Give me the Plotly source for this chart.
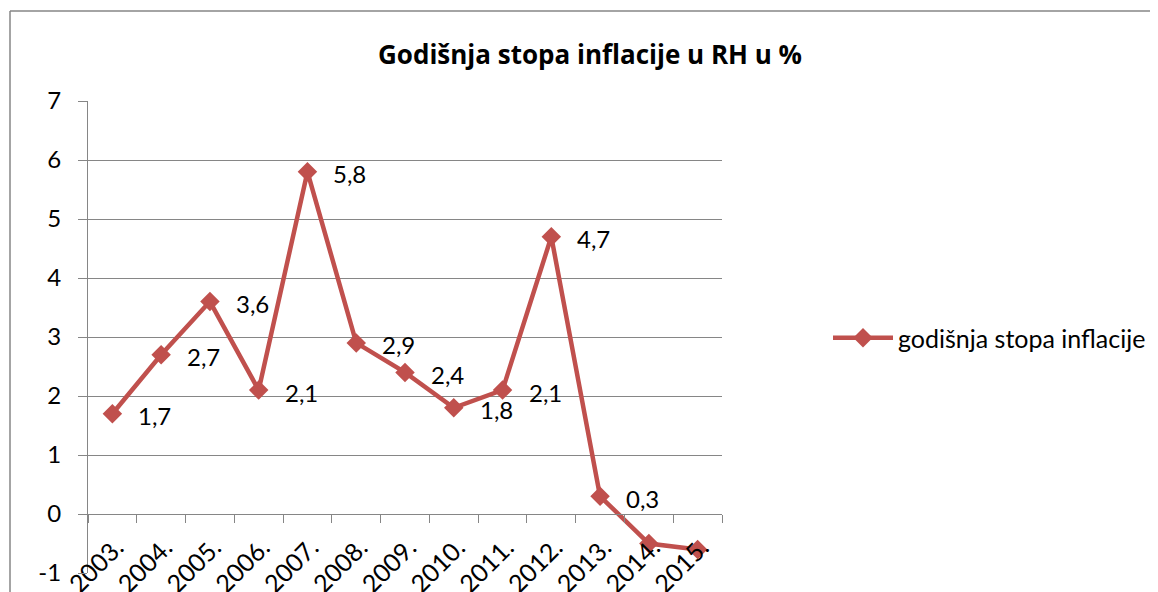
import plotly.graph_objects as go

years = ["2003.", "2004.", "2005.", "2006.", "2007.", "2008.", "2009.",
         "2010.", "2011.", "2012.", "2013.", "2014.", "2015."]
inflation = [1.7, 2.7, 3.6, 2.1, 5.8, 2.9, 2.4, 1.8, 2.1, 4.7, 0.3, -0.5, -0.6]
shown_labels = 11  # the last two points have no data label in the reference
series_name = "godišnja stopa inflacije"
title = "Godišnja stopa inflacije u RH u %"
y_tick_values = [-1, 0, 1, 2, 3, 4, 5, 6, 7]
y_tick_text = ["-1", "0", "1", "2", "3", "4", "5", "6", "7"]

labels = [f"{v:.1f}".replace(".", ",") for v in inflation]

RED = "#C0504D"
GRID = "#868686"
FONT = "Lato"

# the page body has an 8px default margin; work in reference pixels minus it
O = 8
W, H = 1158 - O, 592 - O
ml, mt = 88 - O, 101 - O
plot_right, plot_bottom = 722 - O, 573 - O
mr, mb = W - plot_right, H - plot_bottom
pw = W - ml - mr
ph = H - mt - mb


def px_x(xr):
    return (xr - O - ml) / pw


def px_y(yr):
    return (plot_bottom - (yr - O)) / ph


fig = go.Figure()
fig.add_trace(go.Scatter(
    x=years, y=inflation, name=series_name,
    mode="lines+markers",
    line=dict(color=RED, width=4.5),
    marker=dict(symbol="diamond", size=15, color=RED),
    cliponaxis=False,
))

# data labels, placed to the right of each point (category index on x)
for i in range(shown_labels):
    fig.add_annotation(
        x=i, y=inflation[i], xref="x", yref="y",
        text=labels[i], showarrow=False,
        xanchor="left", yanchor="middle", xshift=24, yshift=-2,
        font=dict(family=FONT, size=24, color="#000000"),
    )

ymin, ymax = y_tick_values[0], y_tick_values[-1]
zero_pos = (0 - ymin) / (ymax - ymin)

fig.update_layout(
    width=W, height=H,
    margin=dict(l=ml, r=mr, t=mt, b=mb, autoexpand=False),
    paper_bgcolor="white", plot_bgcolor="white",
    showlegend=True,
    title=dict(text=f"<b>{title}</b>", x=px_x(590), xref="paper",
               xanchor="center", y=1 - (55 - O) / H, yanchor="middle",
               font=dict(family="Open Sans", size=26, color="#000000")),
    legend=dict(x=px_x(828), xanchor="left", y=px_y(338),
                yanchor="middle", font=dict(family=FONT, size=25, color="#000000"),
                bgcolor="rgba(0,0,0,0)", itemwidth=60),
    xaxis=dict(
        type="category", range=[-0.5, len(years) - 0.5],
        anchor="free", position=zero_pos,
        showline=True, linecolor=GRID, linewidth=1,
        showgrid=False, zeroline=False,
        tickson="boundaries", ticks="outside", ticklen=8, tickcolor=GRID,
        tickangle=-45, ticklabelstandoff=8, ticklabelshift=4,
        tickfont=dict(family=FONT, size=25, color="#000000"),
    ),
    yaxis=dict(
        range=[ymin, ymax], tickmode="array",
        tickvals=y_tick_values, ticktext=y_tick_text,
        showline=True, linecolor=GRID, linewidth=1,
        showgrid=True, gridcolor=GRID, gridwidth=1,
        zeroline=False,
        ticks="outside", ticklen=9, tickcolor=GRID,
        ticklabelstandoff=12,
        tickfont=dict(family=FONT, size=24, color="#000000"),
    ),
)

# chart-area border (top and left edges visible in the reference)
fig.add_shape(type="line", xref="paper", yref="paper",
              x0=px_x(10), x1=px_x(1180), y0=px_y(11), y1=px_y(11),
              line=dict(color=GRID, width=1.5))
fig.add_shape(type="line", xref="paper", yref="paper",
              x0=px_x(10), x1=px_x(10), y0=px_y(11), y1=px_y(620),
              line=dict(color=GRID, width=1.5))

fig.write_html("out.html")
